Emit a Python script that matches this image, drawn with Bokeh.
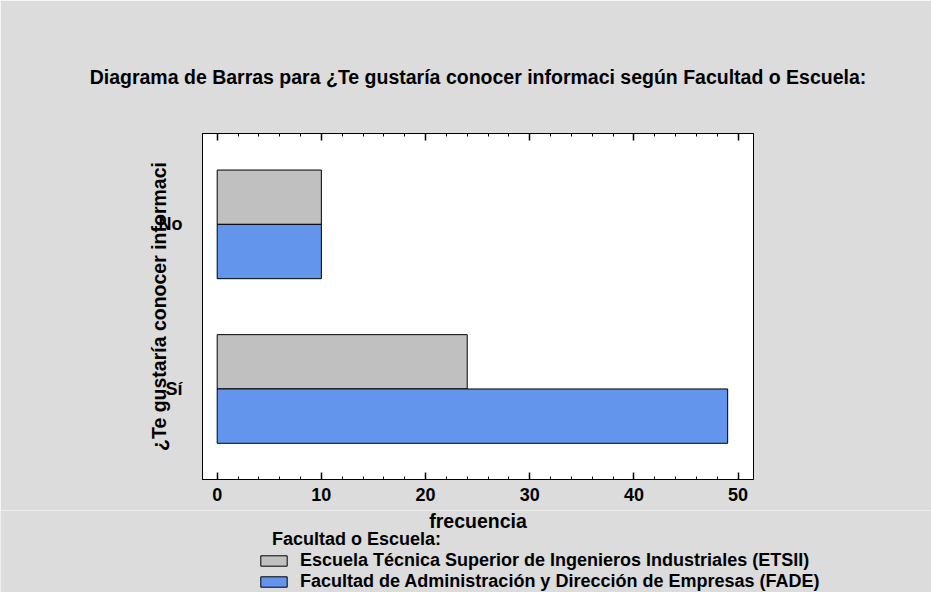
from bokeh.plotting import figure
from bokeh.models import (LinearAxis, FixedTicker, Range1d, Legend, LegendItem, Title,
                          ColumnDataSource, SingleIntervalTicker)
from bokeh.core.properties import value
from bokeh.embed import file_html
from bokeh.resources import INLINE

# ---- data ----
categories = ["Sí", "No"]
cat_pos = [0, 1]
etsii = [24, 10]
fade = [49, 10]
series_names = ["Escuela Técnica Superior de Ingenieros Industriales (ETSII)",
                "Facultad de Administración y Dirección de Empresas (FADE)"]
title_text = "Diagrama de Barras para ¿Te gustaría conocer informaci según Facultad o Escuela:"
y_title = "¿Te gustaría conocer informaci"
x_title = "frecuencia"
legend_title = "\u00a0\u00a0\u00a0Facultad o Escuela:"

FONT = "Liberation Sans"
FS = "18px"
FS_BIG = "19.5px"
BG = "#dcdcdc"
GRAY = "#c0c0c0"
BLUE = "#6495ed"
BAR_H = 0.33

W = 931
TOTAL_H = 592
MAIN_H = 510
FRAME_LEFT = 202
FRAME_RIGHT = 753
FRAME_TOP = 133
FRAME_BOTTOM = 479

p = figure(width=W, height=MAIN_H, output_backend="svg", toolbar_location=None,
           x_range=Range1d(-1.41, 51.48), y_range=Range1d(-0.55, 1.552),
           min_border_left=FRAME_LEFT, min_border_right=W - FRAME_RIGHT,
           min_border_top=FRAME_TOP, min_border_bottom=MAIN_H - FRAME_BOTTOM,
           x_axis_location=None, y_axis_location=None)
p.background_fill_color = "white"
p.border_fill_color = BG
p.outline_line_color = "black"
p.outline_line_width = 1
p.grid.visible = False

src = ColumnDataSource(dict(
    y_etsii=[c + BAR_H / 2 for c in cat_pos],
    y_fade=[c - BAR_H / 2 for c in cat_pos],
    etsii=etsii, fade=fade))

p.hbar(y="y_etsii", right="etsii", left=0, height=BAR_H, source=src,
       fill_color=GRAY, line_color="black", line_width=1)
p.hbar(y="y_fade", right="fade", left=0, height=BAR_H, source=src,
       fill_color=BLUE, line_color="black", line_width=1)

def style_x(ax):
    ax.ticker = SingleIntervalTicker(interval=10, num_minor_ticks=5)
    ax.major_tick_in = 7
    ax.major_tick_out = 0
    ax.minor_tick_in = 3
    ax.minor_tick_out = 0
    ax.major_tick_line_color = "black"
    ax.minor_tick_line_color = "black"
    ax.major_tick_line_width = 1.5
    ax.axis_line_color = "black"
    ax.major_label_text_font = FONT
    ax.major_label_text_font_size = FS
    ax.major_label_text_font_style = "bold"
    ax.major_label_text_color = "black"

xb = LinearAxis()
style_x(xb)
xb.major_label_standoff = 8
p.add_layout(xb, "below")

xt = LinearAxis()
style_x(xt)
xt.major_label_text_font_size = "0px"
xt.major_label_text_color = None
xt.major_label_standoff = 0
p.add_layout(xt, "above")

yl = LinearAxis()
yl.ticker = FixedTicker(ticks=cat_pos)
yl.major_label_overrides = {c: lab for c, lab in zip(cat_pos, categories)}
yl.major_tick_line_color = None
yl.minor_tick_line_color = None
yl.axis_line_color = "black"
yl.major_label_text_font = FONT
yl.major_label_text_font_size = FS
yl.major_label_text_font_style = "bold"
yl.major_label_text_color = "black"
yl.major_label_standoff = 14
yl.axis_label = y_title
yl.axis_label_text_font = FONT
yl.axis_label_text_font_size = FS_BIG
yl.axis_label_text_font_style = "bold"
yl.axis_label_text_color = "black"
yl.axis_label_standoff = -14
p.add_layout(yl, "left")

p.add_layout(Title(text=title_text, align="center", standoff=92, offset=-2,
                   text_font=FONT, text_font_size=FS_BIG, text_font_style="bold",
                   text_color="black"), "above")

# ---- strip below the plot: axis title and legend ----
LEG_H = TOTAL_H - MAIN_H
q = figure(width=W, height=LEG_H, output_backend="svg", toolbar_location=None,
           x_range=Range1d(0, W), y_range=Range1d(LEG_H, 0),
           min_border_left=0, min_border_right=0, min_border_top=0, min_border_bottom=0,
           x_axis_location=None, y_axis_location=None)
q.background_fill_color = BG
q.border_fill_color = BG
q.outline_line_color = None
q.grid.visible = False

frame_center_x = (FRAME_LEFT + FRAME_RIGHT) / 2
q.text(x=[frame_center_x], y=[10], text=[x_title], text_align="center",
       text_baseline="alphabetic", text_font=value(FONT), text_font_size=FS_BIG,
       text_font_style="bold", text_color="black")

lg_gray = q.hbar(y="y_etsii", right="etsii", left=0, height=BAR_H, source=src,
                 fill_color=GRAY, line_color="black", line_width=1, visible=False)
lg_blue = q.hbar(y="y_fade", right="fade", left=0, height=BAR_H, source=src,
                 fill_color=BLUE, line_color="black", line_width=1, visible=False)

legend = Legend(items=[LegendItem(label=series_names[0], renderers=[lg_gray], index=0),
                       LegendItem(label=series_names[1], renderers=[lg_blue], index=0)],
                title=legend_title, title_standoff=0,
                title_text_font=FONT, title_text_font_size=FS, title_text_font_style="bold",
                title_text_color="black",
                location=(257, 0), orientation="vertical",
                glyph_width=33, glyph_height=13, label_standoff=10, spacing=0,
                padding=0, margin=0, border_line_color=None, background_fill_alpha=0,
                inactive_fill_alpha=0,
                label_text_font=FONT, label_text_font_size=FS, label_text_font_style="bold",
                label_text_color="black", label_height=13)
q.add_layout(legend, "center")

open("out.html", "w").write(file_html([p, q], INLINE))
